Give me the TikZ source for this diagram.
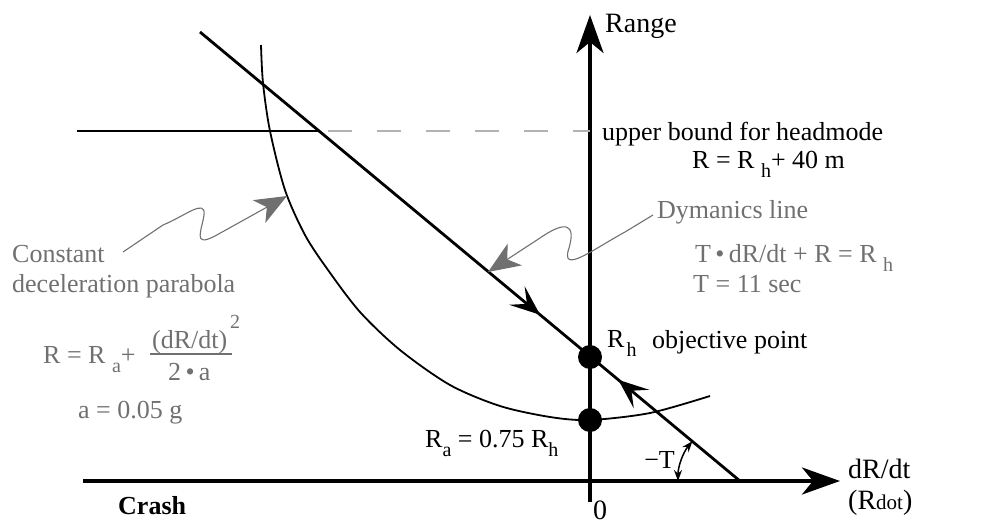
\documentclass[tikz,border=0pt]{standalone}
\usepackage{fontspec}
\setmainfont{Liberation Serif}
\usepackage{xcolor}
\usepackage{tikz}
\usetikzlibrary{arrows.meta,decorations.markings}

\definecolor{annotgray}{RGB}{112,112,112}
\definecolor{boundgray}{RGB}{178,178,178}
\newcommand{\subsz}{\fontsize{20}{20}\selectfont}
\newcommand{\lowsub}[1]{\raisebox{-9pt}{\subsz #1}}

\begin{document}
\begin{tikzpicture}[
x=1pt,
y=-1pt,
every node/.style={font=\fontsize{26}{30}\selectfont,inner sep=0pt,anchor=base west},
annot/.style={text=annotgray},
axlbl/.style={font=\fontsize{28}{32}\selectfont},
axis/.style={line width=4pt,-{Stealth[length=38pt,width=27pt,inset=11pt]}},
dynline/.style={line width=2.8pt,postaction={decorate},decoration={markings,
  mark=at position 0.63 with {\arrow{Stealth[length=30pt,width=24pt,inset=13pt]}},
  mark=at position 0.775 with {\arrowreversed{Stealth[length=30pt,width=24pt,inset=13pt]}}}},
boundline/.style={line width=2.6pt},
bounddash/.style={line width=1.6pt,draw=boundgray,dash pattern=on 24pt off 25pt,dash phase=41pt},
parab/.style={line width=1.8pt},
pointer/.style={draw=annotgray,line width=1.1pt,-{Stealth[length=32pt,width=26pt,inset=9pt,fill=annotgray]}},
anglearc/.style={line width=1.5pt,{Stealth[length=11pt,width=8pt]}-{Stealth[length=11pt,width=8pt]}},
dot/.style={circle,fill=black,minimum size=24pt,inner sep=0pt,anchor=center}
]
\useasboundingbox (0,0) rectangle (989,525);

\coordinate (ybot) at (590,502);
\coordinate (ytop) at (590,15);
\coordinate (xleft) at (83,481);
\coordinate (xright) at (840,481);
\coordinate (dynA) at (200,32);
\coordinate (dynB) at (740,481);
\coordinate (bndL) at (77,131);
\coordinate (bndX) at (320,131);
\coordinate (bndAxis) at (590,131);

\draw[axis] (ybot) -- (ytop);
\draw[axis] (xleft) -- (xright);
\draw[boundline] (bndL) -- (bndX);
\draw[bounddash] (bndX) -- (bndAxis);
\draw[parab] plot[smooth] coordinates {(261,45) (263,83) (270,131) (285,190) (305,235) (328,270) (360,312) (400,350) (450,385) (500,406) (550,417) (590,420) (650,413) (710,396)};
\draw[dynline] (dynA) -- (dynB);
\draw[anglearc] (dynB) ++(180:62) arc[start angle=180,end angle=220,radius=62];

\node[dot] (rh) at (590,357) {};
\node[dot] (ra) at (590,420) {};

\node[axlbl] (range) at (605,32) {Range};
\node (ubound) at (602,140) {upper bound for headmode};
\node (ubeq) at (692,168) {R = R \lowsub{h}+ 40 m};
\node[annot] (dynlbl) at (657,218) {Dymanics line};
\node[annot] (dyneq) at (695,262) {T\,\textbullet\,dR/dt + R = R \lowsub{h}};
\node[annot] (tval) at (693,292) {T = 11 sec};
\node (rhlbl) at (607,347) {R\kern2pt\lowsub{h}};
\node (objlbl) at (652,348) {objective point};
\node (ralbl) at (425,447) {R\lowsub{a} = 0.75 R\lowsub{h}};
\node[anchor=base east] (tlbl) at (675,468) {−T};
\node[axlbl] (xlbl) at (848,478) {dR/dt};
\node[axlbl] (xlbl2) at (848,509) {(R{\fontsize{21}{21}\selectfont dot})};
\node[axlbl,anchor=base] (zero) at (600,519) {0};
\node (crash) at (118,514) {\bfseries Crash};

\node[annot] (cnst1) at (12,262) {Constant};
\node[annot] (cnst2) at (12,292) {deceleration parabola};
\node[annot] (paraeq) at (43,363) {R = R \lowsub{a}+};
\node[annot] (num) at (152,348) {(dR/dt)};
\node[annot] (sq) at (230,328) {\subsz 2};
\node[annot] (den) at (168,380) {2\,\textbullet\,a};
\node[annot] (aval) at (78,418) {a = 0.05 g};
\coordinate (barL) at (150,354);
\coordinate (barR) at (232,354);
\draw[annotgray,line width=1.3pt] (barL) -- (barR);

\coordinate (cnstTail) at (123,252);
\coordinate (cnstTip) at (287,196);
\coordinate (dynTail) at (653,215);
\coordinate (dynTip) at (488,272);
\draw[pointer] (cnstTail) -- (163,225) .. controls (185,216) and (206,198) .. (204,215) .. controls (202,230) and (192,248) .. (215,236) -- (cnstTip);
\draw[pointer] (dynTail) -- (625,232) .. controls (592,250) and (560,275) .. (569,248) .. controls (576,224) and (566,220) .. (540,238) -- (dynTip);
\end{tikzpicture}
\end{document}
